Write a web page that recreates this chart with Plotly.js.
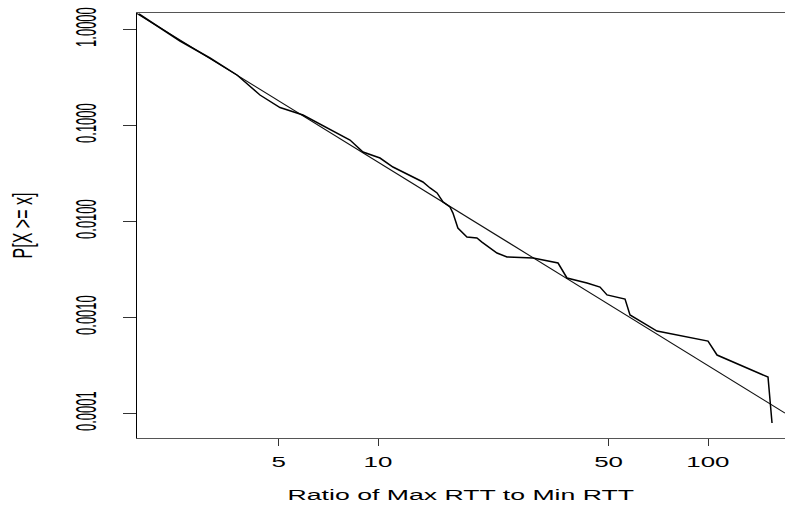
<!DOCTYPE html>
<html>
<head>
<meta charset="utf-8">
<script src="https://cdn.plot.ly/plotly-3.0.1.min.js"></script>
<style>html,body{margin:0;padding:0;background:#fff;}#chart{width:785px;height:507px;}</style>
</head>
<body>
<div id="chart"></div>
<script>
const ratioX = [1.887, 2.512, 3.097, 3.739, 4.389, 5.047, 5.925, 7.51, 8.225, 9.006, 10.14, 11.10, 12.50, 13.68, 14.38, 15.10, 15.74, 16.52, 16.87, 17.46, 18.60, 19.94, 20.65, 21.83, 22.94, 24.60, 29.51, 35.12, 36.11, 37.38, 42.98, 47.07, 49.43, 56.05, 58.03, 60.08, 70.05, 100.0, 106.5, 152.0, 156.3];
const ccdfY = [1.433, 0.750, 0.4988, 0.332, 0.2053, 0.152, 0.1271, 0.0825, 0.0698, 0.0523, 0.0453, 0.0365, 0.0301, 0.0255, 0.0221, 0.0196, 0.0158, 0.0140, 0.0121, 0.00845, 0.00681, 0.00665, 0.00604, 0.00523, 0.00464, 0.00422, 0.00412, 0.00365, 0.00309, 0.00255, 0.00226, 0.00205, 0.00170, 0.00154, 0.00105, 0.000977, 0.000715, 0.000562, 0.000402, 0.000237, 0.0000787];
// Fitted power-law line (endpoints)
const fitX = [1.861, 171.1];
const fitY = [1.45, 0.0001];
// Tick labels
const xTickVals = [5, 10, 50, 100];
const xTickText = ['5', '10', '50', '100'];
const yTickVals = [1, 0.1, 0.01, 0.001, 0.0001];
const yTickText = ['1.0000', '0.1000', '0.0100', '0.0010', '0.0001'];

const FONT = 'Liberation Sans, Arial, Helvetica, sans-serif';

const traces = [
  {x: fitX, y: fitY, type: 'scatter', mode: 'lines', line: {color: '#111', width: 1.1}, hoverinfo: 'skip'},
  {x: ratioX, y: ccdfY, type: 'scatter', mode: 'lines', line: {color: '#000', width: 1.5}, hoverinfo: 'skip'}
];

const layout = {
  width: 785, height: 507,
  margin: {l: 137, r: 0, t: 13, b: 69, pad: 0},
  paper_bgcolor: '#fff', plot_bgcolor: '#fff',
  showlegend: false,
  font: {family: FONT, color: '#000'},
  xaxis: {
    type: 'log', range: [0.2697, 2.2333], autorange: false,
    showgrid: false, zeroline: false,
    showline: true, mirror: true, linecolor: '#555', linewidth: 1,
    ticks: 'outside', ticklen: 7, tickcolor: '#333', tickwidth: 1,
    tickvals: xTickVals, ticktext: xTickText,
    tickfont: {family: FONT, size: 14, color: '#000'},
    ticklabelstandoff: 4,
    title: {text: 'Ratio of Max RTT to Min RTT', font: {family: FONT, size: 15.5, color: '#000'}, standoff: 20}
  },
  yaxis: {
    type: 'log', range: [-4.26, 0.1667], autorange: false,
    showgrid: false, zeroline: false,
    showline: true, mirror: false, linecolor: '#000', linewidth: 1,
    ticks: 'outside', ticklen: 13, tickcolor: '#333', tickwidth: 1,
    tickvals: yTickVals, ticktext: yTickText, tickangle: -90,
    tickfont: {family: FONT, size: 13, color: '#000'},
    ticklabelstandoff: 27,
    title: {text: 'P[X >= x]', font: {family: FONT, size: 16, color: '#000'}, standoff: 46}
  }
};

function stretch(sel, sx, sy) {
  document.querySelectorAll(sel).forEach(function (t) {
    const b = t.getBBox();
    const cx = b.x + b.width / 2, cy = b.y + b.height / 2;
    const T = t.getAttribute('transform') || '';
    t.setAttribute('transform', T + ' translate(' + cx + ',' + cy + ') scale(' + sx + ',' + sy + ') translate(' + (-cx) + ',' + (-cy) + ')');
  });
}

Plotly.newPlot('chart', traces, layout, {staticPlot: true, displayModeBar: false}).then(function () {
  stretch('.xtick text', 1.85, 1);
  stretch('.ytick text', 1, 2.2);
  stretch('.g-xtitle text', 1.72, 1);
  stretch('.g-ytitle text', 1, 1.7);
});
</script>
</body>
</html>
